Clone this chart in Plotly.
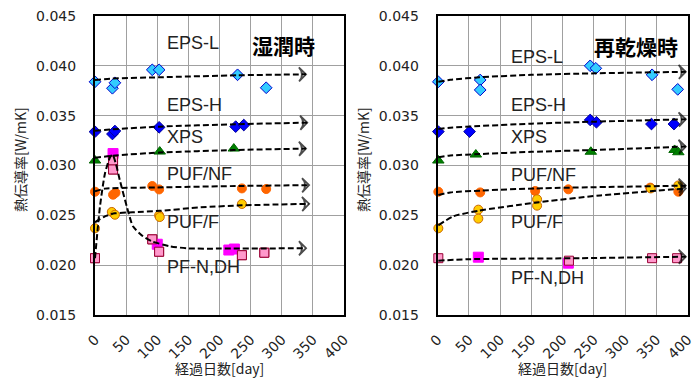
import plotly.graph_objects as go

# ---------------- data: 湿潤時 (left) ----------------
W_EPSL_x = [0, 28, 32, 92, 103, 229, 275]
W_EPSL_y = [0.0384, 0.03775, 0.0383, 0.0396, 0.0396, 0.0391, 0.0378]
W_EPSH_x = [0, 28, 32, 103, 226, 239]
W_EPSH_y = [0.03339, 0.03316, 0.03346, 0.03383, 0.0339, 0.03406]
W_XPS_x = [0, 104, 223]
W_XPS_y = [0.0305, 0.0314, 0.0317]
W_PUFNF_x = [0, 29, 33, 92, 103, 236, 275]
W_PUFNF_y = [0.02737, 0.02707, 0.02727, 0.02794, 0.0276, 0.0277, 0.02764]
W_PUFF_x = [0, 27, 32, 103, 104, 236]
W_PUFF_y = [0.0237, 0.02534, 0.02506, 0.0250, 0.02483, 0.02614]
W_PFm_x = [29, 100, 215, 224]
W_PFm_y = [0.0312, 0.0221, 0.02152, 0.02162]
W_PFp_x = [0, 29, 29, 92, 103, 236, 272]
W_PFp_y = [0.0207, 0.0305, 0.0296, 0.02259, 0.02135, 0.0210, 0.02125]

# trend lines
WT_EPSL_x = [0, 28, 103, 229, 339]
WT_EPSL_y = [0.03858, 0.03872, 0.03885, 0.03905, 0.03915]
WT_EPSH_x = [0, 28, 103, 226, 341]
WT_EPSH_y = [0.03349, 0.03363, 0.0339, 0.03414, 0.0343]
WT_XPS_x = [0, 28, 104, 223, 339]
WT_XPS_y = [0.03078, 0.03098, 0.0313, 0.03155, 0.0317]
WT_PUFNF_x = [0, 16, 100, 236, 344]
WT_PUFNF_y = [0.0274, 0.02768, 0.0278, 0.02795, 0.02803]
WT_PUFF_x = [0, 16, 32, 60, 104, 170, 236, 344]
WT_PUFF_y = [0.0243, 0.0249, 0.0252, 0.0253, 0.02545, 0.0258, 0.0260, 0.02615]
WT_PF_x = [0, 8, 16, 24, 28, 33, 40, 51, 61, 77, 91, 120, 150, 200, 339]
WT_PF_y = [0.0207, 0.0259, 0.0292, 0.0308, 0.0311, 0.0303, 0.0285, 0.0259, 0.0239,
           0.0229, 0.0224, 0.0219, 0.02168, 0.02166, 0.0217]

# ---------------- data: 再乾燥時 (right) ----------------
D_EPSL_x = [1, 68, 68, 244, 253, 343, 384]
D_EPSL_y = [0.0384, 0.03858, 0.03758, 0.0400, 0.03975, 0.0391, 0.03764]
D_EPSH_x = [1, 51, 244, 254, 342, 378]
D_EPSH_y = [0.0334, 0.0334, 0.03457, 0.03434, 0.03416, 0.03416]
D_XPS_x = [1, 61, 245, 379, 385]
D_XPS_y = [0.0305, 0.0311, 0.03138, 0.03156, 0.03133]
D_PUFNF_x = [1, 68, 156, 209, 340, 385]
D_PUFNF_y = [0.02737, 0.0273, 0.02744, 0.02761, 0.02778, 0.02737]
D_PUFF_x = [1, 65, 65, 159, 159, 341, 385]
D_PUFF_y = [0.0237, 0.02557, 0.02467, 0.02661, 0.02597, 0.0277, 0.0280]
D_PFm_x = [65, 209]
D_PFm_y = [0.0208, 0.0202]
D_PFp_x = [1, 210, 343, 383]
D_PFp_y = [0.0207, 0.02045, 0.0207, 0.0207]

DT_EPSL_x = [1, 20, 67, 150, 253, 397]
DT_EPSL_y = [0.0384, 0.0386, 0.03885, 0.0391, 0.03925, 0.0394]
DT_EPSH_x = [1, 20, 67, 150, 253, 397]
DT_EPSH_y = [0.03366, 0.0338, 0.03396, 0.0342, 0.0344, 0.03464]
DT_XPS_x = [1, 20, 67, 150, 253, 397]
DT_XPS_y = [0.03082, 0.031, 0.03115, 0.03137, 0.03156, 0.0319]
DT_PUFNF_x = [1, 20, 68, 156, 397]
DT_PUFNF_y = [0.02704, 0.0273, 0.02748, 0.0277, 0.02798]
DT_PUFF_x = [1, 25, 65, 156, 260, 397]
DT_PUFF_y = [0.0240, 0.0249, 0.02546, 0.02627, 0.0270, 0.0277]
DT_PF_x = [1, 50, 228, 397]
DT_PF_y = [0.02045, 0.0206, 0.0207, 0.02085]

X_TICKS = [0, 50, 100, 150, 200, 250, 300, 350, 400]
Y_TICKS = [0.015, 0.020, 0.025, 0.030, 0.035, 0.040, 0.045]

LABELS = ["EPS-L", "EPS-H", "XPS", "PUF/NF", "PUF/F", "PF-N,DH"]
W_LABEL_Y = [0.04229, 0.03607, 0.03286, 0.02915, 0.02433, 0.01982]
D_LABEL_Y = [0.04089, 0.03607, 0.03286, 0.02905, 0.02433, 0.01871]
TITLES = ["湿潤時", "再乾燥時"]

fig = go.Figure()

styles = {
    "EPSL": dict(symbol="diamond", size=9, color="#33CCFF", line=dict(color="#0000CC", width=1)),
    "EPSH": dict(symbol="diamond", size=9, color="#0000FF", line=dict(color="#000099", width=1)),
    "XPS": dict(symbol="triangle-up", size=10, color="#008000", line=dict(color="#006600", width=1)),
    "PUFNF": dict(symbol="circle", size=9, color="#FF6600", line=dict(color="#FF6600", width=1)),
    "PUFF": dict(symbol="circle", size=9, color="#FFCC00", line=dict(color="#CC6600", width=1)),
    "PFm": dict(symbol="square", size=10, color="#FF00FF", line=dict(color="#FF00FF", width=1)),
    "PFp": dict(symbol="square", size=9, color="#FF99CC", line=dict(color="#990033", width=1)),
}

def add_points(x, y, key, xa, ya):
    fig.add_trace(go.Scatter(x=x, y=y, mode="markers", marker=styles[key],
                             xaxis=xa, yaxis=ya, showlegend=False, cliponaxis=False))

def add_trend(x, y, xa, ya):
    sizes = [0] * (len(x) - 1) + [10]
    fig.add_trace(go.Scatter(x=x, y=y, mode="lines+markers",
                             line=dict(color="black", width=2, dash="6px,3px", shape="spline", smoothing=0.6),
                             marker=dict(symbol="arrow-wide-open", size=sizes, angleref="previous",
                                         color="black", line=dict(color="black", width=1.8)),
                             xaxis=xa, yaxis=ya, showlegend=False, cliponaxis=False))

# left
add_points(W_PFp_x, W_PFp_y, "PFp", "x", "y")
add_points(W_PFm_x, W_PFm_y, "PFm", "x", "y")
add_points(W_PFp_x, W_PFp_y, "PFp", "x", "y")
add_points(W_PUFNF_x, W_PUFNF_y, "PUFNF", "x", "y")
add_points(W_PUFF_x, W_PUFF_y, "PUFF", "x", "y")
add_points(W_XPS_x, W_XPS_y, "XPS", "x", "y")
add_points(W_EPSH_x, W_EPSH_y, "EPSH", "x", "y")
add_points(W_EPSL_x, W_EPSL_y, "EPSL", "x", "y")
for tx, ty in [(WT_EPSL_x, WT_EPSL_y), (WT_EPSH_x, WT_EPSH_y), (WT_XPS_x, WT_XPS_y),
               (WT_PUFNF_x, WT_PUFNF_y), (WT_PUFF_x, WT_PUFF_y), (WT_PF_x, WT_PF_y)]:
    add_trend(tx, ty, "x", "y")

# right
add_points(D_PFm_x, D_PFm_y, "PFm", "x2", "y2")
add_points(D_PFp_x, D_PFp_y, "PFp", "x2", "y2")
add_points(D_PUFNF_x, D_PUFNF_y, "PUFNF", "x2", "y2")
add_points(D_PUFF_x, D_PUFF_y, "PUFF", "x2", "y2")
add_points(D_XPS_x, D_XPS_y, "XPS", "x2", "y2")
add_points(D_EPSH_x, D_EPSH_y, "EPSH", "x2", "y2")
add_points(D_EPSL_x, D_EPSL_y, "EPSL", "x2", "y2")
for tx, ty in [(DT_EPSL_x, DT_EPSL_y), (DT_EPSH_x, DT_EPSH_y), (DT_XPS_x, DT_XPS_y),
               (DT_PUFNF_x, DT_PUFNF_y), (DT_PUFF_x, DT_PUFF_y), (DT_PF_x, DT_PF_y)]:
    add_trend(tx, ty, "x2", "y2")

tickfont = dict(family="DejaVu Sans", size=14, color="#222222")
xcommon = dict(range=[0, 400], tickvals=X_TICKS, tickangle=-45, showgrid=True, gridcolor="#a0a0a0",
               gridwidth=1, showline=True, linecolor="black", linewidth=2, mirror=True,
               zeroline=False, tickfont=tickfont, ticks="", ticklabelstandoff=9, automargin=False)
ycommon = dict(range=[0.015, 0.045], tickvals=Y_TICKS, tickformat=".3f", showgrid=True,
               gridcolor="#a0a0a0", gridwidth=1, showline=True, linecolor="black", linewidth=2,
               mirror=True, zeroline=False, tickfont=tickfont, ticks="", ticklabelstandoff=14,
               automargin=False)

fig.update_layout(
    width=696, height=379, margin=dict(l=0, r=0, t=0, b=0, autoexpand=False),
    paper_bgcolor="white", plot_bgcolor="white",
    xaxis=dict(domain=[95 / 696, 344 / 696], anchor="y", **xcommon),
    yaxis=dict(domain=[64 / 379, 363 / 379], anchor="x", **ycommon),
    xaxis2=dict(domain=[437.7 / 696, 687.7 / 696], anchor="y2", **xcommon),
    yaxis2=dict(domain=[64 / 379, 363 / 379], anchor="x2", **ycommon),
)

lblfont = dict(family="Liberation Sans", size=18, color="#222222")
ann = []
for lab, ly in zip(LABELS, W_LABEL_Y):
    ann.append(dict(x=113, y=ly, xref="x", yref="y", text=lab, showarrow=False,
                    xanchor="left", yanchor="middle", font=lblfont))
for lab, ly in zip(LABELS, D_LABEL_Y):
    ann.append(dict(x=114, y=ly, xref="x2", yref="y2", text=lab, showarrow=False,
                    xanchor="left", yanchor="middle", font=lblfont))
ann.append(dict(x=283 / 696, y=1 - 45 / 379, xref="paper", yref="paper", text="<b>" + TITLES[0] + "</b>",
                showarrow=False, xanchor="center", yanchor="middle",
                font=dict(family="Noto Sans CJK JP", size=21, color="black")))
ann.append(dict(x=636 / 696, y=1 - 46 / 379, xref="paper", yref="paper", text="<b>" + TITLES[1] + "</b>",
                showarrow=False, xanchor="center", yanchor="middle",
                font=dict(family="Noto Sans CJK JP", size=21, color="black")))
titlefont = dict(family="Noto Sans CJK JP", size=14, color="#222222")
for cx in [219.5, 562.7]:
    ann.append(dict(x=cx / 696, y=1 - 368 / 379, xref="paper", yref="paper", text="経過日数[day]",
                    showarrow=False, xanchor="center", yanchor="middle", font=titlefont))
for cx in [20, 363]:
    ann.append(dict(x=cx / 696, y=1 - 160 / 379, xref="paper", yref="paper", text="熱伝導率[W/mK]",
                    showarrow=False, xanchor="center", yanchor="middle", textangle=-90, font=titlefont))
fig.update_layout(annotations=ann)

fig.write_html("out.html", config={"displayModeBar": False},
               post_script="document.body.style.margin='0';document.body.style.padding='0';")
